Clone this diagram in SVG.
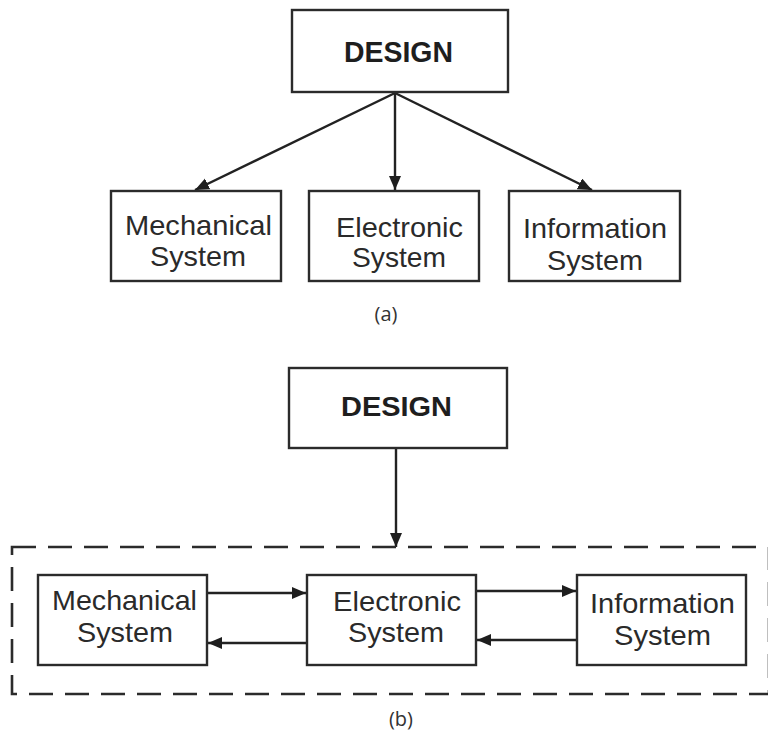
<svg xmlns="http://www.w3.org/2000/svg" width="768" height="738" viewBox="0 0 768 738">
<style>
.box{fill:#fff;stroke:#2b2b2b;stroke-width:2.4}
.lbl{font-family:"Liberation Sans",Arial,sans-serif;font-size:28px;fill:#2a2a2a}
.bold{font-family:"Liberation Sans",Arial,sans-serif;font-weight:bold;fill:#1e1e1e}
.cap{font-family:"Open Sans","DejaVu Sans",sans-serif;font-size:20px;fill:#333}
.con{stroke:#222;stroke-width:2.4;fill:none;marker-end:url(#ah)}
.dash{fill:none;stroke:#2b2b2b;stroke-width:2.6;stroke-dasharray:24 12}
</style>
<defs>
<marker id="ah" markerUnits="userSpaceOnUse" markerWidth="16" markerHeight="14" refX="14" refY="6" orient="auto">
<path d="M0,0 L14,6 L0,12 z" fill="#1e1e1e"/>
</marker>
</defs>
<rect width="768" height="738" fill="#fff"/>

<g id="connectors">
<line class="con" x1="395" y1="93" x2="195" y2="190"/>
<line class="con" x1="395" y1="93" x2="395" y2="190"/>
<line class="con" x1="395" y1="93" x2="592" y2="190"/>
<line class="con" x1="396" y1="448" x2="396" y2="547"/>
<line class="con" x1="208" y1="593" x2="306" y2="593"/>
<line class="con" x1="307" y1="643" x2="208" y2="643"/>
<line class="con" x1="477" y1="591" x2="576" y2="591"/>
<line class="con" x1="577" y1="640" x2="477" y2="640"/>
</g>

<g id="design-a">
<rect class="box" x="292" y="10" width="216" height="82"/>
<text class="bold" x="344" y="62" font-size="29" textLength="109" lengthAdjust="spacingAndGlyphs">DESIGN</text>
</g>
<g id="mech-a">
<rect class="box" x="111" y="191" width="170" height="90"/>
<text class="lbl" x="125" y="235" textLength="147" lengthAdjust="spacingAndGlyphs">Mechanical</text>
<text class="lbl" x="150" y="266" textLength="96" lengthAdjust="spacingAndGlyphs">System</text>
</g>
<g id="elec-a">
<rect class="box" x="309" y="191" width="170" height="90"/>
<text class="lbl" x="336" y="237" textLength="127" lengthAdjust="spacingAndGlyphs">Electronic</text>
<text class="lbl" x="352" y="267" textLength="94" lengthAdjust="spacingAndGlyphs">System</text>
</g>
<g id="info-a">
<rect class="box" x="509" y="191" width="171" height="90"/>
<text class="lbl" x="523" y="238" textLength="144" lengthAdjust="spacingAndGlyphs">Information</text>
<text class="lbl" x="547" y="270" textLength="96" lengthAdjust="spacingAndGlyphs">System</text>
</g>
<text class="cap" x="386" y="321" text-anchor="middle">(a)</text>

<g id="design-b">
<rect class="box" x="289" y="368" width="218" height="80"/>
<text class="bold" x="341" y="416" font-size="28" textLength="111" lengthAdjust="spacingAndGlyphs">DESIGN</text>
</g>
<g id="group-b">
<rect class="dash" x="12" y="547" width="757" height="147"/>
</g>
<g id="mech-b">
<rect class="box" x="38" y="575" width="169" height="90"/>
<text class="lbl" x="52" y="610" textLength="145" lengthAdjust="spacingAndGlyphs">Mechanical</text>
<text class="lbl" x="77" y="642" textLength="96" lengthAdjust="spacingAndGlyphs">System</text>
</g>
<g id="elec-b">
<rect class="box" x="307" y="575" width="169" height="90"/>
<text class="lbl" x="333" y="611" textLength="128" lengthAdjust="spacingAndGlyphs">Electronic</text>
<text class="lbl" x="348" y="642" textLength="96" lengthAdjust="spacingAndGlyphs">System</text>
</g>
<g id="info-b">
<rect class="box" x="577" y="575" width="169" height="90"/>
<text class="lbl" x="590" y="613" textLength="145" lengthAdjust="spacingAndGlyphs">Information</text>
<text class="lbl" x="614" y="645" textLength="97" lengthAdjust="spacingAndGlyphs">System</text>
</g>
<text class="cap" x="401" y="726" text-anchor="middle">(b)</text>
</svg>
